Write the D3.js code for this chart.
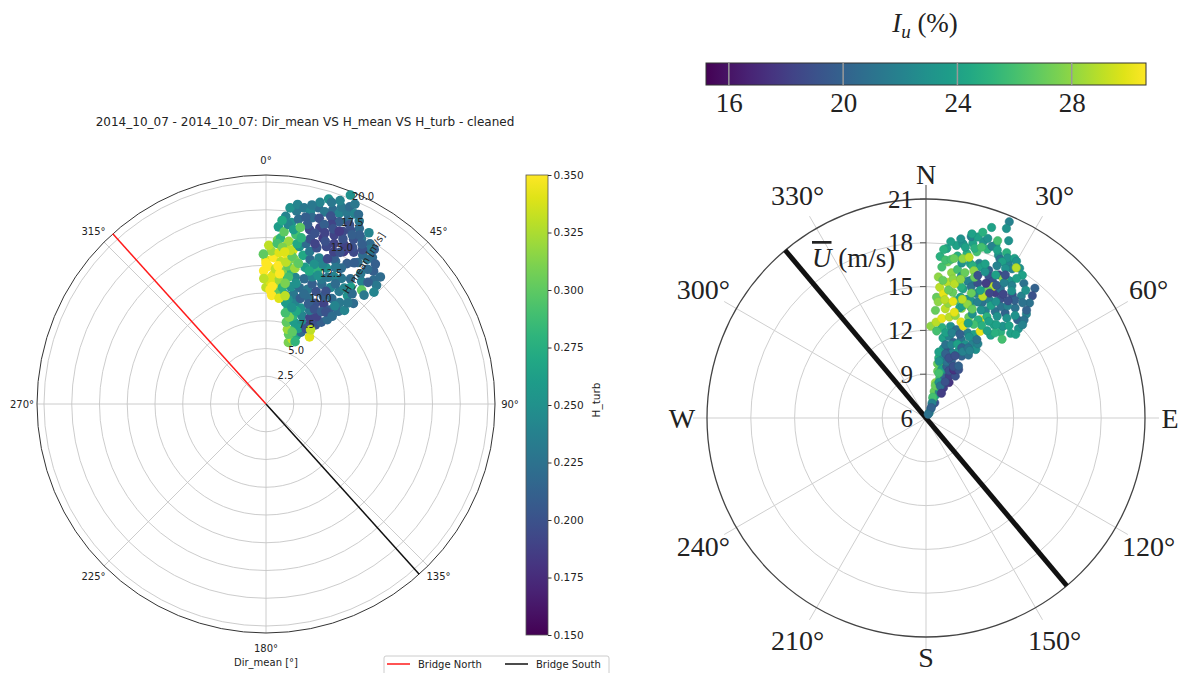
<!DOCTYPE html>
<html><head><meta charset="utf-8">
<script src="https://cdn.jsdelivr.net/npm/d3@7"></script>
<style>body{margin:0;background:#fff;} svg{display:block;}</style>
</head><body><svg id="c" width="1183" height="673"></svg>
<script>
// ---------------- DATA ----------------
const leftTitle = "2014_10_07 - 2014_10_07: Dir_mean VS H_mean VS H_turb - cleaned";
const leftAngleTicks = [0, 45, 90, 135, 180, 225, 270, 315];
const leftRadialTicks = [2.5, 5, 7.5, 10, 12.5, 15, 17.5, 20];
const leftRadialMax = 20.63;
const leftColorTicks = [0.150, 0.175, 0.200, 0.225, 0.250, 0.275, 0.300, 0.325, 0.350];
const leftColorDomain = [0.15, 0.35];
const bridgeNames = ["Bridge North", "Bridge South"];
const bridgeLeftDirs = [318, 138];
// [Dir_mean (deg), H_mean (m/s), H_turb]
const leftPoints = [
 [20,5.9,0.31],[22,6.3,0.33],[18,6.6,0.30],[24,6.8,0.27],[16,7.0,0.32],[21,7.3,0.29],[26,7.2,0.22],[33,7.2,0.34],
 [14,7.6,0.30],[19,7.8,0.26],[24,8.0,0.25],[29,8.2,0.19],[32,8.4,0.20],[17,8.3,0.28],[22,8.6,0.24],[27,8.7,0.19],
 [34,8.9,0.21],[30,9.1,0.19],[13,8.9,0.27],[36,9.4,0.22],[25,9.3,0.23],[20,9.2,0.25],[16,9.6,0.24],
 [23,7.4,0.26],[28,7.7,0.20],[15,8.1,0.31],[20,6.9,0.30],[25,6.2,0.28],[31,7.8,0.33],[12,8.4,0.29],[18,8.8,0.27],
 [10,10.0,0.24],[14,10.2,0.23],[18,10.0,0.21],[22,10.3,0.22],[26,10.1,0.20],[30,10.4,0.19],[34,10.2,0.21],[38,10.6,0.22],
 [12,10.8,0.25],[16,10.9,0.22],[20,11.0,0.23],[24,11.1,0.20],[28,11.0,0.21],[32,11.2,0.22],[36,11.3,0.23],[40,11.0,0.24],
 [9,11.5,0.27],[13,11.7,0.24],[17,11.8,0.22],[21,11.6,0.21],[25,11.9,0.22],[29,12.0,0.24],[33,12.1,0.23],[37,12.2,0.25],
 [41,12.0,0.22],[8,9.8,0.26],[12,9.6,0.25],
 [11,9.3,0.26],[15,9.0,0.25],[19,10.5,0.22],[23,9.8,0.21],[27,9.6,0.20],[31,9.7,0.21],[35,10.8,0.24],[39,11.7,0.23],
 [33,9.9,0.20],[28,11.5,0.20],[24,12.3,0.23],[20,12.2,0.24],[14,11.2,0.25],[10,12.1,0.28],[37,9.9,0.22],
 [0,10.5,0.33],[2,10.3,0.35],[4,10.8,0.34],[1,11.3,0.35],[3,11.6,0.34],[6,11.2,0.32],[-1,12.0,0.35],[1,12.4,0.35],
 [4,12.2,0.33],[7,12.0,0.31],[0,13.0,0.34],[3,13.2,0.35],[6,12.9,0.33],[9,12.6,0.30],[2,13.8,0.32],[5,13.7,0.34],
 [8,13.5,0.35],[11,13.3,0.31],[7,14.3,0.33],[10,14.1,0.34],[-1,13.5,0.30],[5,10.1,0.30],[8,10.6,0.28],[10,11.6,0.29],
 [12,12.5,0.32],[3,9.8,0.35],[7,9.6,0.34],[10,9.9,0.33],
 [2,11.0,0.34],[5,12.5,0.35],[-1,11.3,0.33],[1,14.3,0.33],[4,14.8,0.31],[8,12.9,0.33],[6,11.8,0.35],[0,12.7,0.35],
 [3,10.6,0.35],[9,11.0,0.31],
 [5,15.0,0.28],[4,16.0,0.26],[6,17.0,0.24],[8,16.5,0.25],[9,17.6,0.23],[6,15.6,0.30],[8,14.8,0.32],[10,15.5,0.29],
 [7,16.3,0.24],[9,15.9,0.26],[5,16.6,0.27],[4,14.5,0.29],[6,14.2,0.31],[7,17.8,0.25],[9,18.2,0.24],
 [11,18.0,0.23],[13,17.8,0.24],[15,18.3,0.22],[17,18.1,0.23],[19,18.5,0.22],[21,18.4,0.24],[23,18.7,0.23],
 [15,18.8,0.24],[17,19.3,0.25],[13,18.4,0.23],[21,19.0,0.23],[23,19.3,0.22],[25,18.9,0.24],
 [12,14.5,0.25],[14,13.8,0.27],[17,13.6,0.22],[20,14.0,0.24],[26,14.3,0.22],[30,14.6,0.21],[33,15.2,0.22],[35,15.9,0.23],
 [36,16.3,0.22],[39,15.4,0.21],[41,14.8,0.22],[43,14.6,0.23],[38,14.0,0.24],[34,13.6,0.22],[31,13.2,0.23],[28,13.0,0.24],
 [36,13.0,0.26],[40,13.4,0.30],[33,17.2,0.22],[31,18.0,0.24],[27,18.5,0.23],[35,17.0,0.21],[24,13.4,0.25],[21,13.0,0.28],
 [16,12.8,0.26],[13,13.0,0.30],[28,17.9,0.22],[30,17.2,0.23],
 [29,14.0,0.22],[27,13.8,0.23],[25,14.5,0.21],[22,13.6,0.24],[19,13.3,0.25],[16,14.3,0.23],[14,14.9,0.22],[11,14.7,0.27],
 [10,13.5,0.30],[18,12.6,0.27],[22,12.5,0.25],[26,12.7,0.23],[30,12.5,0.22],[34,12.6,0.24],[38,12.6,0.22],[42,13.2,0.23],
 [40,14.3,0.21],[37,15.2,0.22],[36,14.5,0.23],[44,14.0,0.24],[42,15.4,0.22],[38,16.0,0.21],[32,15.0,0.21],[33,16.0,0.22],
 [34,16.8,0.23],[10,16.9,0.22],[14,17.3,0.22],
 [12,17.2,0.21],[16,17.4,0.20],[20,17.6,0.195],[19,17.9,0.20],[22,17.7,0.21],[24,18.1,0.22],[26,17.4,0.20],
 [14,16.2,0.195],[17,16.6,0.19],[19,15.8,0.185],[22,16.4,0.19],[24,17.0,0.195],[26,16.0,0.19],[28,16.8,0.20],[21,15.2,0.195],
 [24,15.0,0.19],[27,15.4,0.185],[30,15.8,0.195],[32,16.4,0.20],[18,14.8,0.20],[15,15.4,0.20],[20,17.2,0.19],[25,17.8,0.20],
 [29,17.4,0.21],[23,14.2,0.195],[13,16.6,0.21],[16,16.0,0.20],[18,17.0,0.21],[19,16.3,0.19],[21,16.9,0.20],[23,15.7,0.19],
 [25,16.4,0.20],[27,17.1,0.21],[29,16.1,0.20],[31,16.8,0.21],[17,15.1,0.19],[20,15.6,0.20],[23,16.9,0.185],[26,15.2,0.20],
 [28,15.9,0.19],
 [9,14.0,0.33],[11,16.2,0.30],[7,13.8,0.34],[12,15.3,0.28],
 [20,19.5,0.24],[22,20.3,0.25],[24,19.7,0.23],[18,19.1,0.23],[26,19.0,0.22]
];

const rightColorTitle = ["I", "u", " (%)"];
const rightColorTicks = [16, 20, 24, 28];
const rightColorDomain = [15.2, 30.6];
const rightAngleTicks = [0, 30, 60, 90, 120, 150, 180, 210, 240, 270, 300, 330];
const rightAngleLabels = ["N", "30°", "60°", "E", "120°", "150°", "S", "210°", "240°", "W", "300°", "330°"];
const rightRadialTicks = [6, 9, 12, 15, 18, 21];
const rightRadialDomain = [6, 21];
const rightAxisLabel = ["U", " (m/s)"];
const bridgeRightDir = 320;
// [direction (deg), U mean (m/s), Iu (%)]
const rightPoints = [
 [32,6.4,23],[28,6.7,21],[25,7.0,18.5],[30,7.2,19],[20,7.4,26],[23,7.7,24],[17,7.9,27],[27,8.0,22],[22,8.3,25],[15,8.5,28],
 [30,8.4,18],[26,8.7,18.5],[19,8.9,26],[33,8.9,17.5],[24,9.1,20],[14,9.3,27],[29,9.3,18],[21,9.6,24],[35,9.5,19],[17,9.8,28],
 [18,7.5,26],[22,7.1,22],[27,6.8,20],[30,6.3,21],[16,8.3,27],[12,9.8,27],[15,9.9,26],[20,8.6,23],[24,8.4,21],[28,8.8,19],
 [32,8.0,18],[18,9.5,24],[22,9.8,20],[26,9.6,19],[30,9.8,17.5],[34,10.0,19],[16,9.2,26],
 [12,10.2,25],[16,10.4,22],[20,10.1,21],[24,10.3,20],[28,10.0,19],[32,10.2,20],[14,10.9,23],[18,11.0,19],[22,10.8,22],
 [26,11.1,23],[30,10.9,20],[34,11.2,21],[12,11.6,24],[16,11.8,22],[20,11.5,20],[24,11.9,21],[28,11.7,23],[32,12.0,22],
 [36,11.8,23],[10,12.3,25],[15,12.5,23],[19,12.4,21],[26,12.5,22],[30,12.6,24],
 [11,10.6,24],[13,10.0,23],[15,11.2,21],[17,10.6,20],[19,11.3,22],[21,10.4,19],[23,11.5,24],[25,10.7,19],[27,11.4,20],
 [29,11.2,22],[31,11.6,21],[33,11.5,22],[35,12.2,22],[13,12.0,24],[17,12.1,22],[22,12.2,20],[28,12.3,23],[33,12.4,21],
 [3,12.3,28],[6,12.6,29],[9,12.9,30],[13,13.1,29],[16,13.3,28],[20,13.0,30],[5,13.4,27],[10,13.6,29],[18,13.9,28],
 [23,13.5,27],[7,12.0,26],[22,12.8,30],[29,13.7,30],[32,13.0,30],
 [5,14.3,27],[6,15.0,29],[5,15.7,28],[6,16.4,26],[5,17.1,25],[7,17.7,24],[8,14.6,30],[9,15.4,29],[10,16.1,28],[8,16.8,27],
 [11,14.0,28],[12,14.8,27],[13,15.6,26],[11,17.3,25],[10,18.0,24],
 [6,14.0,28],[7,15.5,27],[7,16.9,26],[6,17.6,25],[8,18.2,24],[9,17.0,26],[9,14.2,29],[10,14.9,27],[11,15.7,28],[12,16.4,26],
 [12,18.2,23],[14,17.6,25],[15,18.4,24],[17,17.9,26],[18,18.7,23],[20,18.3,25],[22,18.8,24],[24,18.2,23],[26,18.6,25],
 [28,18.0,22],[16,17.0,24],[19,17.2,22],[13,16.9,23],
 [11,18.5,23],[13,18.0,24],[14,18.8,22],[16,18.1,25],[16,18.9,24],[18,18.3,26],[19,19.0,23],[21,18.6,22],[23,18.5,24],
 [25,18.0,21],[27,18.3,23],[29,18.5,24],[30,18.4,23],[32,17.0,22],
 [40,17.6,20],[41,17.1,19],[42,16.6,21],[44,15.9,22],[43,15.2,20],[46,14.8,23],[45,14.2,24],[41,13.8,25],[38,13.2,24],[44,13.5,26],
 [18,15.9,22],[16,15.2,24],[19,14.6,23],[22,14.2,25],[26,14.8,21],[29,14.4,22],[33,14.7,21],[37,15.0,20],[14,14.3,26],
 [17,13.9,24],[24,13.8,23],[28,13.6,25],[36,13.9,24],[40,14.2,23],[39,15.7,21],[38,16.6,22],[36,17.4,21],[32,18.1,23],
 [30,17.8,22],
 [14,16.0,23],[15,15.3,25],[16,14.6,24],[17,15.8,22],[17,16.9,25],[18,14.1,24],[19,15.5,21],[20,17.0,24],[21,15.9,19],
 [21,14.6,23],[22,15.2,22],[23,17.0,20],[24,14.7,22],[24,16.6,19],[25,15.9,23],[26,16.4,19],[26,17.9,24],[27,14.3,23],
 [27,17.0,18.5],[28,15.2,22],[28,17.6,23],[29,15.8,18],[30,14.9,24],[30,16.2,21],[31,17.0,23],[31,14.1,25],[32,15.6,19],
 [33,16.8,22],[33,13.9,24],[34,15.2,21],[34,17.8,24],[35,16.3,19],[35,14.5,23],[36,15.5,22],[37,16.1,20],[37,14.0,24],
 [38,17.1,23],[39,14.8,23],[40,16.3,21],[41,15.3,23],[42,14.5,24],[43,16.1,20],[45,15.5,21],[46,15.2,22],[47,14.4,24],
 [39,13.5,25],[35,13.3,24],[31,13.4,25],[27,13.2,26],[24,13.1,24],
 [20,15.1,27],[25,15.2,29],[15,16.3,27],[18,16.6,28],[27,16.1,29],
 [12,15.4,29],[14,15.8,28],[10,17.1,27],[13,17.2,28],[20,14.3,28],[23,14.1,27],[17,14.5,29],[26,15.7,27],[29,16.9,28],[19,16.2,27],
 [20,16.4,19],[22,16.8,23],[24,16.1,18],[26,16.9,24],[28,16.3,19.5],[30,16.7,22],[32,16.0,18.5],[34,16.5,23],[23,15.5,24],
 [27,15.6,18.5],[31,15.3,23],[35,15.8,19],[21,17.3,24],[25,17.5,22],[29,17.2,19],[33,17.4,24],
 [15,17.4,29],[31,18.0,29],[13,14.2,30],[15,13.5,30],
 [23,20.6,22],[23,20.1,23],[19,19.8,24],[17,19.3,25],[22,19.1,26],[14,19.0,24],[25,19.4,23]
];

// ---------------- DRAW ----------------
const svg = d3.select("#c");
const rad = d => d * Math.PI / 180;
const defs = svg.append("defs");
function viridisGradient(id, x2, y2, y1) {
  const g = defs.append("linearGradient").attr("id", id)
    .attr("x1", 0).attr("y1", y1).attr("x2", x2).attr("y2", y2);
  d3.range(0, 1.0001, 0.05).forEach(t => g.append("stop").attr("offset", t).attr("stop-color", d3.interpolateViridis(t)));
}
viridisGradient("gv", 0, 0, 1);
viridisGradient("gh", 1, 0, 0);

// ===== LEFT =====
const SANS = "DejaVu Sans, sans-serif";
const L = {cx: 266, cy: 404, R: 229};
const rL = d3.scaleLinear().domain([0, leftRadialMax]).range([0, L.R]);
const colL = d3.scaleSequential(d3.interpolateViridis).domain(leftColorDomain);
const gl = svg.append("g").attr("transform", `translate(${L.cx},${L.cy})`);

svg.append("text").attr("x", 305).attr("y", 126).attr("text-anchor", "middle")
  .attr("font-family", SANS).attr("font-size", 12).attr("fill", "#222").text(leftTitle);

gl.selectAll(".ring").data(leftRadialTicks).join("circle")
  .attr("r", d => rL(d)).attr("fill", "none").attr("stroke", "#c6c6c6").attr("stroke-width", 0.9);
gl.selectAll(".spoke").data(leftAngleTicks).join("line")
  .attr("x1", 0).attr("y1", 0)
  .attr("x2", d => d3.pointRadial(rad(d), L.R)[0]).attr("y2", d => d3.pointRadial(rad(d), L.R)[1])
  .attr("stroke", "#c6c6c6").attr("stroke-width", 0.9);
gl.append("circle").attr("r", L.R).attr("fill", "none").attr("stroke", "#333").attr("stroke-width", 1);

gl.selectAll(".alab").data(leftAngleTicks).join("text")
  .attr("x", d => d3.pointRadial(rad(d), L.R + 15)[0]).attr("y", d => d3.pointRadial(rad(d), L.R + 15)[1])
  .attr("text-anchor", "middle").attr("dominant-baseline", "central")
  .attr("font-family", SANS).attr("font-size", 10).attr("fill", "#222").text(d => d + "°");

const bridgeColors = ["#ff1a1a", "#111"];
gl.selectAll(".bridge").data(bridgeLeftDirs).join("line")
  .attr("x1", 0).attr("y1", 0)
  .attr("x2", d => d3.pointRadial(rad(d), L.R)[0]).attr("y2", d => d3.pointRadial(rad(d), L.R)[1])
  .attr("stroke", (d, i) => bridgeColors[i]).attr("stroke-width", 1.5);

gl.selectAll(".pt").data(leftPoints).join("circle")
  .attr("cx", d => d3.pointRadial(rad(d[0]), rL(d[1]))[0])
  .attr("cy", d => d3.pointRadial(rad(d[0]), rL(d[1]))[1])
  .attr("r", 4.8).attr("fill", d => colL(d[2]));

gl.selectAll(".rlab").data(leftRadialTicks).join("text")
  .attr("x", d => d3.pointRadial(rad(22.5), rL(d))[0] + 1)
  .attr("y", d => d3.pointRadial(rad(22.5), rL(d))[1] + 1)
  .attr("font-family", SANS).attr("font-size", 10).attr("fill", "#222").text(d => d.toFixed(1));

gl.append("text").attr("transform", "translate(98,-141) rotate(-58)")
  .attr("text-anchor", "middle").attr("dominant-baseline", "central")
  .attr("font-family", SANS).attr("font-size", 10).attr("fill", "#222").text("H_mean [m/s]");

svg.append("text").attr("x", L.cx).attr("y", 666).attr("text-anchor", "middle")
  .attr("font-family", SANS).attr("font-size", 10).attr("fill", "#222").text("Dir_mean [°]");

const cbL = {x: 526, y0: 175, y1: 635, w: 22};
const yCbL = d3.scaleLinear().domain(leftColorDomain).range([cbL.y1, cbL.y0]);
svg.append("rect").attr("x", cbL.x).attr("y", cbL.y0).attr("width", cbL.w).attr("height", cbL.y1 - cbL.y0)
  .attr("fill", "url(#gv)").attr("stroke", "#555").attr("stroke-width", 0.8);
const axL = svg.append("g").attr("transform", `translate(${cbL.x + cbL.w},0)`)
  .call(d3.axisRight(yCbL).tickValues(leftColorTicks).tickFormat(d3.format(".3f")).tickSize(3.5).tickPadding(2));
axL.select(".domain").remove();
axL.selectAll("text").attr("font-family", SANS).attr("font-size", 10.5).attr("fill", "#222");
axL.selectAll("line").attr("stroke", "#333");
svg.append("text").attr("transform", "translate(596,400) rotate(-90)").attr("text-anchor", "middle")
  .attr("dominant-baseline", "central").attr("font-family", SANS).attr("font-size", 10.5).attr("fill", "#222").text("H_turb");

const lg = svg.append("g");
lg.append("rect").attr("x", 384).attr("y", 656).attr("width", 225).attr("height", 26).attr("rx", 2)
  .attr("fill", "#fff").attr("stroke", "#ccc");
const legX = [387, 505];
bridgeNames.forEach((n, i) => {
  lg.append("line").attr("x1", legX[i]).attr("x2", legX[i] + 23).attr("y1", 664).attr("y2", 664)
    .attr("stroke", bridgeColors[i]).attr("stroke-width", 1.5);
  lg.append("text").attr("x", legX[i] + 31).attr("y", 664).attr("dominant-baseline", "central")
    .attr("font-family", SANS).attr("font-size", 10).attr("fill", "#222").text(n);
});

// ===== RIGHT =====
const SERIF = "Liberation Serif, Times New Roman, serif";
const Rt = {cx: 926, cy: 418, R: 219};
const rR = d3.scaleLinear().domain(rightRadialDomain).range([0, Rt.R]);
const colR = d3.scaleSequential(d3.interpolateViridis).domain(rightColorDomain);
const gr = svg.append("g").attr("transform", `translate(${Rt.cx},${Rt.cy})`);

gr.selectAll(".ring").data(rightRadialTicks.slice(1, -1)).join("circle")
  .attr("r", d => rR(d)).attr("fill", "none").attr("stroke", "#cfcfcf").attr("stroke-width", 1);
gr.selectAll(".spoke").data(rightAngleTicks).join("line")
  .attr("x1", 0).attr("y1", 0)
  .attr("x2", d => d3.pointRadial(rad(d), Rt.R + 14)[0]).attr("y2", d => d3.pointRadial(rad(d), Rt.R + 14)[1])
  .attr("stroke", d => d === 0 ? "#555" : "#cfcfcf").attr("stroke-width", d => d === 0 ? 1.1 : 1);
gr.append("circle").attr("r", Rt.R).attr("fill", "none").attr("stroke", "#444").attr("stroke-width", 1.3);

const labR = (d, i) => rightAngleLabels[i].length > 1 ? Rt.R + 38 : (d === 180 ? Rt.R + 20 : Rt.R + 25);
gr.selectAll(".alab").data(rightAngleTicks).join("text")
  .attr("x", (d, i) => d3.pointRadial(rad(d), labR(d, i))[0])
  .attr("y", (d, i) => d3.pointRadial(rad(d), labR(d, i))[1])
  .attr("text-anchor", "middle").attr("dominant-baseline", "central")
  .attr("font-family", SERIF).attr("font-size", 28).attr("fill", "#222").text((d, i) => rightAngleLabels[i]);

gr.append("line")
  .attr("x1", d3.pointRadial(rad(bridgeRightDir), Rt.R)[0]).attr("y1", d3.pointRadial(rad(bridgeRightDir), Rt.R)[1])
  .attr("x2", d3.pointRadial(rad(bridgeRightDir - 180), Rt.R)[0]).attr("y2", d3.pointRadial(rad(bridgeRightDir - 180), Rt.R)[1])
  .attr("stroke", "#111").attr("stroke-width", 5);

gr.selectAll(".pt").data(rightPoints).join("circle")
  .attr("cx", d => d3.pointRadial(rad(d[0]), rR(d[1]))[0])
  .attr("cy", d => d3.pointRadial(rad(d[0]), rR(d[1]))[1])
  .attr("r", 4.2).attr("fill", d => colR(d[2]))
  .attr("stroke", d => d3.color(colR(d[2])).darker(0.3)).attr("stroke-width", 0.5);

gr.selectAll(".rtick").data(rightRadialTicks.slice(1)).join("line")
  .attr("x1", -6).attr("x2", 0).attr("y1", d => -rR(d)).attr("y2", d => -rR(d))
  .attr("stroke", "#555").attr("stroke-width", 1);
gr.selectAll(".rlab").data(rightRadialTicks).join("text")
  .attr("x", -13).attr("y", d => -rR(d)).attr("text-anchor", "end").attr("dominant-baseline", "central")
  .attr("font-family", SERIF).attr("font-size", 25).attr("fill", "#222").text(d => d);

const ul = svg.append("text").attr("x", 812).attr("y", 267)
  .attr("font-family", SERIF).attr("font-size", 27).attr("fill", "#222");
ul.append("tspan").attr("font-style", "italic").style("text-decoration", "overline").text(rightAxisLabel[0]);
ul.append("tspan").text(rightAxisLabel[1]);

const cbR = {x0: 706, x1: 1146, y: 63, h: 22};
const xCbR = d3.scaleLinear().domain(rightColorDomain).range([cbR.x0, cbR.x1]);
svg.append("rect").attr("x", cbR.x0).attr("y", cbR.y).attr("width", cbR.x1 - cbR.x0).attr("height", cbR.h)
  .attr("fill", "url(#gh)").attr("stroke", "#333").attr("stroke-width", 1);
svg.selectAll(".cbt").data(rightColorTicks).join("line")
  .attr("x1", d => xCbR(d)).attr("x2", d => xCbR(d)).attr("y1", cbR.y).attr("y2", cbR.y + cbR.h)
  .attr("stroke", "#999").attr("stroke-width", 1.5);
const axR = svg.append("g").attr("transform", `translate(0,${cbR.y + cbR.h})`)
  .call(d3.axisBottom(xCbR).tickValues(rightColorTicks).tickSize(0).tickPadding(8));
axR.select(".domain").remove();
axR.selectAll("text").attr("font-family", SERIF).attr("font-size", 27).attr("fill", "#222");

const ct = svg.append("text").attr("x", 925).attr("y", 32).attr("text-anchor", "middle")
  .attr("font-family", SERIF).attr("font-size", 27).attr("fill", "#222");
ct.append("tspan").attr("font-style", "italic").text(rightColorTitle[0]);
ct.append("tspan").attr("font-style", "italic").attr("font-size", 19).attr("dy", 6).text(rightColorTitle[1]);
ct.append("tspan").attr("dy", -6).text(rightColorTitle[2]);
</script></body></html>
